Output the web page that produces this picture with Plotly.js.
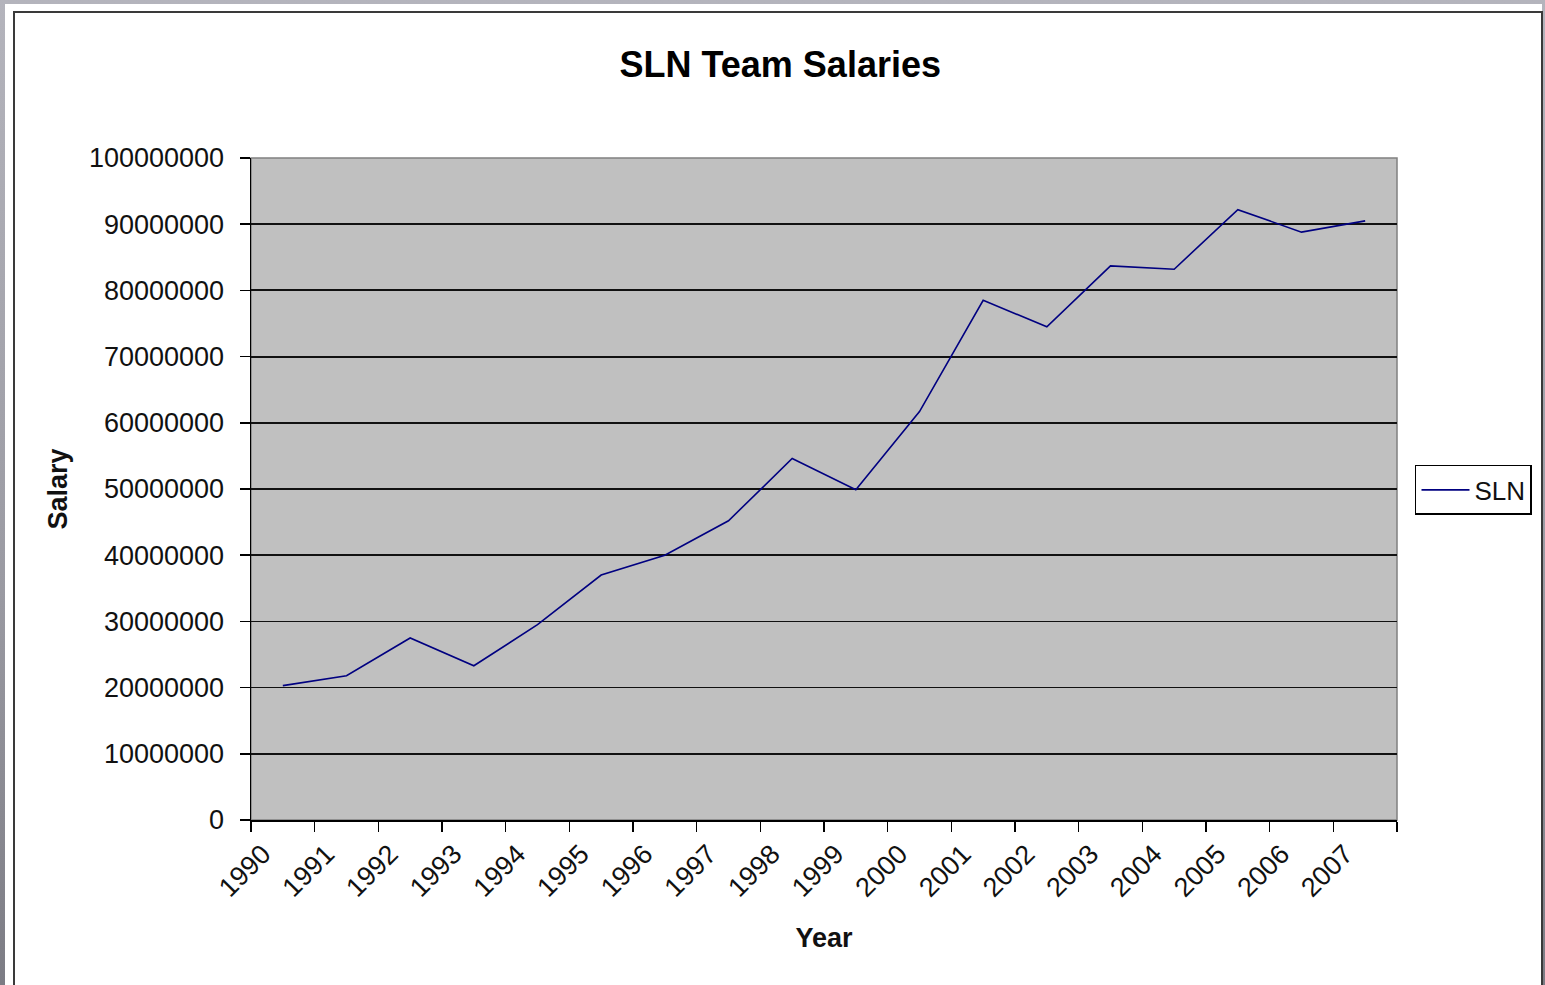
<!DOCTYPE html>
<html>
<head>
<meta charset="utf-8">
<script src="https://cdn.plot.ly/plotly-3.0.1.min.js"></script>
<style>
  html, body { margin: 0; padding: 0; width: 1545px; height: 985px; overflow: hidden;
    background: linear-gradient(to bottom, #b4b4bc 0%, #9a9aa2 60%, #7c7c84 100%); }
  #frame { position: absolute; left: 5px; top: 4px; width: 1537px; height: 990px; background: #ffffff; }
  #border { position: absolute; left: 13px; top: 11px; width: 1526px; height: 990px;
    border-left: 2px solid #3a3a3a; border-top: 2px solid #3a3a3a; border-right: 2px solid #3a3a3a; }
  #chart { position: absolute; left: 0; top: 0; width: 1545px; height: 985px; }
</style>
</head>
<body>
<div id="frame"></div>
<div id="border"></div>
<div id="chart"></div>
<script>
const years = ['1990','1991','1992','1993','1994','1995','1996','1997','1998','1999',
               '2000','2001','2002','2003','2004','2005','2006','2007'];
const salaries = [20300000, 21800000, 27500000, 23300000, 29500000, 37000000, 40000000,
                  45200000, 54600000, 49900000, 61700000, 78500000, 74500000, 83700000,
                  83200000, 92200000, 88800000, 90500000];
const yTickVals = [0, 10000000, 20000000, 30000000, 40000000, 50000000, 60000000,
                   70000000, 80000000, 90000000, 100000000];
const yTickText = ['0', '10000000', '20000000', '30000000', '40000000', '50000000',
                   '60000000', '70000000', '80000000', '90000000', '100000000'];
const seriesName = 'SLN';

const FONT = '"Liberation Sans", Arial, sans-serif';

const trace = {
  type: 'scatter',
  mode: 'lines',
  x: years,
  y: salaries,
  name: seriesName,
  line: { color: '#000080', width: 1.6 },
  showlegend: true
};

const layout = {
  width: 1545,
  height: 985,
  margin: { l: 251, r: 148, t: 158, b: 165, autoexpand: false },
  paper_bgcolor: 'rgba(0,0,0,0)',
  plot_bgcolor: '#c0c0c0',
  font: { family: FONT, color: '#111111', size: 26 },
  title: {
    text: 'SLN Team Salaries',
    font: { family: FONT, size: 36, color: '#000000', weight: 'bold' },
    xref: 'container', x: 0.505, xanchor: 'center',
    yref: 'container', y: 0.935, yanchor: 'middle'
  },
  xaxis: {
    type: 'category',
    range: [-0.5, 17.5],
    tickson: 'boundaries',
    ticks: 'outside',
    ticklen: 10,
    tickwidth: 1.5,
    tickcolor: '#000000',
    tickangle: -45,
    ticklabelshift: -20,
    ticklabelstandoff: 6,
    showline: true,
    linecolor: '#000000',
    linewidth: 1.5,
    showgrid: false,
    zeroline: false,
    automargin: false,
    tickfont: { family: FONT, size: 27, color: '#111111' },
    title: { text: 'Year', font: { family: FONT, size: 27, weight: 'bold', color: '#111111' }, standoff: 26 }
  },
  yaxis: {
    range: [0, 100000000],
    tickmode: 'array',
    tickvals: yTickVals,
    ticktext: yTickText,
    ticks: 'outside',
    ticklen: 10,
    tickwidth: 1.5,
    tickcolor: '#000000',
    ticklabelstandoff: 10,
    showline: true,
    linecolor: '#000000',
    linewidth: 1.5,
    showgrid: true,
    gridcolor: '#111111',
    gridwidth: 1.8,
    zeroline: false,
    automargin: false,
    tickfont: { family: FONT, size: 27, color: '#111111' },
    title: { text: 'Salary', font: { family: FONT, size: 27, weight: 'bold', color: '#111111' }, standoff: 13 }
  },
  legend: {
    x: 1.0157, xanchor: 'left',
    y: 0.4985, yanchor: 'middle',
    bgcolor: '#ffffff',
    bordercolor: '#000000',
    borderwidth: 1.5,
    font: { family: FONT, size: 26, color: '#111111' },
    itemwidth: 48
  },
  shapes: [{
    type: 'rect', xref: 'paper', yref: 'paper', x0: 0, x1: 1, y0: 0, y1: 1,
    line: { color: '#808080', width: 1.5 }, layer: 'below'
  }],
  showlegend: true
};

Plotly.newPlot('chart', [trace], layout, { displayModeBar: false, staticPlot: true });
</script>
</body>
</html>
